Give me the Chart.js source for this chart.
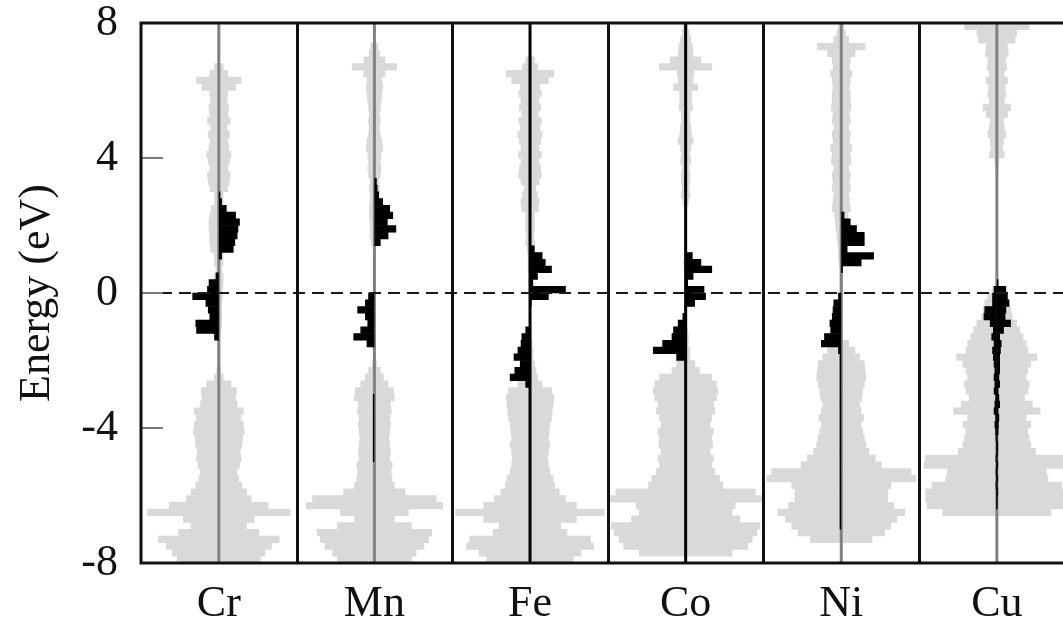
<!DOCTYPE html>
<html>
<head>
<meta charset="utf-8">
<script src="https://cdn.jsdelivr.net/npm/chart.js@4.4.1/dist/chart.umd.min.js"></script>
<style>
  html, body { margin: 0; background: #fff; }
  #wrap { width: 1063px; height: 623px; }
</style>
</head>
<body>
<div id="wrap"><canvas id="dosChart"></canvas></div>
<script>
// impurities, one panel each
const elements = ['Cr', 'Mn', 'Fe', 'Co', 'Ni', 'Cu'];
const energyTicks = [-8, -4, 0, 4, 8];

// energy bins (eV), centres from -7.9 to 7.9
const binWidth = 0.2;
const energies = [];
for (let i = 0; i < 80; i++) energies.push(+(-7.9 + binWidth * i).toFixed(1));

// host DOS (drawn symmetric, grey), rows of 2 eV from the bottom up
const crTotal = [
  2.7, 3.0, 3.4, 3.9, 2.6, 1.8, 2.3, 4.6, 3.2, 2.1,
  1.8, 1.5, 1.3, 1.2, 1.35, 1.45, 1.4, 1.5, 1.55, 1.65,
  1.6, 1.45, 1.6, 1.2, 1.1, 1.15, 0.8, 0.3, 0.15, 0.1,
  0.1, 0.1, 0.1, 0.1, 0.15, 0.2, 0.2, 0.2, 0.2, 0.25,
  0.25, 0.3, 0.3, 0.2, 0.3, 0.3, 0.55, 0.6, 0.6, 0.65,
  0.65, 0.6, 0.5, 0.3, 0.3, 0.6, 0.7, 0.75, 0.6, 0.7,
  0.8, 0.65, 0.6, 0.7, 0.55, 0.75, 0.6, 0.65, 0.55, 0.6,
  1.1, 1.45, 0.6, 0.3, 0, 0, 0, 0, 0, 0
];
const mnTotal = [
  2.4, 2.7, 3.2, 3.5, 3.7, 2.4, 1.3, 2.2, 4.4, 4.0,
  2.0, 1.3, 1.15, 1.1, 1.15, 1.0, 1.05, 1.0, 0.95, 1.0,
  1.05, 1.0, 1.1, 1.05, 1.3, 1.25, 0.9, 0.6, 0.4, 0.15,
  0.05, 0.05, 0.05, 0.05, 0.05, 0.05, 0.05, 0.05, 0.05, 0.05,
  0.05, 0.05, 0.05, 0.05, 0.05, 0.05, 0.1, 0.2, 0.3, 0.3,
  0.3, 0.35, 0.35, 0.3, 0.3, 0.35, 0.3, 0.4, 0.45, 0.4,
  0.45, 0.55, 0.5, 0.4, 0.35, 0.4, 0.35, 0.4, 0.45, 0.5,
  0.55, 0.5, 0.7, 1.45, 0.7, 0.35, 0.25, 0, 0, 0
];
const feTotal = [
  2.8, 3.3, 4.1, 3.9, 2.4, 2.0, 3.0, 4.8, 3.0, 2.3,
  1.9, 1.6, 1.5, 1.3, 1.2, 1.15, 1.2, 1.3, 1.2, 1.25,
  1.3, 1.4, 1.45, 1.5, 1.55, 1.4, 0.8, 0.5, 0.4, 0.3,
  0.2, 0.2, 0.15, 0.1, 0.1, 0.05, 0.05, 0.05, 0.05, 0.05,
  0.1, 0.1, 0.1, 0.15, 0.15, 0.15, 0.2, 0.3, 0.25, 0.3,
  0.3, 0.3, 0.55, 0.6, 0.5, 0.4, 0.6, 0.75, 0.7, 0.6,
  0.75, 0.6, 0.7, 0.8, 0.65, 0.75, 0.55, 0.7, 0.6, 0.75,
  0.65, 1.2, 1.55, 0.5, 0.3, 0, 0, 0, 0, 0
];
const coTotal = [
  0, 3.0, 4.0, 4.3, 4.6, 4.8, 3.5, 3.0, 3.2, 4.9,
  4.5, 2.4, 2.2, 1.9, 1.7, 1.8, 1.6, 1.75, 1.7, 1.8,
  1.6, 1.7, 1.9, 1.8, 2.0, 2.1, 2.0, 1.7, 0.9, 0.6,
  0.3, 0.3, 0.2, 0.2, 0.15, 0.1, 0.1, 0.1, 0.1, 0.1,
  0.1, 0.1, 0.1, 0.1, 0.15, 0.1, 0.1, 0.1, 0.05, 0.05,
  0.05, 0.05, 0.1, 0.2, 0.3, 0.25, 0.3, 0.3, 0.25, 0.35,
  0.3, 0.35, 0.5, 0.4, 0.35, 0.3, 0.3, 0.45, 0.4, 0.4,
  0.8, 0.5, 0.55, 1.7, 1.0, 0.5, 0.45, 0.35, 0.25, 0.15
];
const niTotal = [
  0, 0, 0, 2.0, 2.8, 3.2, 3.6, 4.1, 3.4, 3.0,
  3.0, 3.2, 4.8, 4.5, 2.6, 2.2, 1.8, 1.6, 1.5, 1.4,
  1.3, 1.45, 1.3, 1.2, 1.35, 1.4, 1.5, 1.6, 1.55, 1.5,
  1.2, 0.9, 0.5, 0.1, 0.1, 0.1, 0.1, 0.1, 0.1, 0.1,
  0.1, 0.1, 0.1, 0.1, 0.15, 0.2, 0.2, 0.25, 0.3, 0.35,
  0.4, 0.45, 0.6, 0.55, 0.5, 0.6, 0.55, 0.6, 0.5, 0.65,
  0.6, 0.7, 0.55, 0.6, 0.5, 0.6, 0.55, 0.65, 0.6, 0.6,
  0.55, 0.6, 0.7, 0.55, 0.6, 0.9, 1.55, 0.5, 0.3, 0.2
];
const cuTotal = [
  0, 0, 0, 0, 0, 0, 0, 3.5, 4.5, 4.6,
  4.6, 4.2, 3.3, 3.2, 4.7, 4.6, 2.5, 2.2, 2.1, 2.0,
  2.2, 1.9, 2.8, 2.3, 1.8, 2.0, 2.1, 1.9, 2.0, 2.2,
  2.6, 2.0, 1.9, 1.7, 1.5, 1.3, 1.0, 0.9, 0.8, 0.6,
  0.3, 0.05, 0.05, 0.05, 0.05, 0.05, 0.05, 0.05, 0.05, 0.05,
  0.05, 0.05, 0.05, 0.05, 0.05, 0.05, 0.05, 0.05, 0.1, 0.15,
  0.5, 0.4, 0.45, 0.6, 0.5, 0.45, 0.7, 0.9, 0.5, 0.6,
  0.55, 0.7, 0.5, 0.65, 0.6, 0.75, 0.7, 1.2, 1.3, 2.1
];

// impurity DOS, spin up (right of the axis) and spin down (left)
const crUp = [
  0, 0, 0, 0, 0, 0, 0, 0, 0, 0,
  0, 0, 0, 0, 0, 0, 0, 0, 0, 0,
  0, 0, 0, 0, 0, 0, 0, 0, 0, 0,
  0, 0, 0, 0, 0, 0, 0, 0, 0, 0,
  0, 0, 0, 0, 0, 0.2, 0.95, 1.05, 1.2, 1.25,
  1.35, 1.1, 0.5, 0.2, 0.1, 0, 0, 0, 0, 0,
  0, 0, 0, 0, 0, 0, 0, 0, 0, 0,
  0, 0, 0, 0, 0, 0, 0, 0, 0, 0
];
const crDown = [
  0, 0, 0, 0, 0, 0, 0, 0, 0, 0,
  0, 0, 0, 0, 0, 0, 0, 0, 0, 0,
  0, 0, 0, 0, 0, 0, 0, 0, 0, 0,
  0, 0, 0, 0.3, 1.45, 1.5, 0.6, 0.7, 0.85, 1.7,
  0.75, 0.65, 0.2, 0, 0, 0, 0, 0, 0, 0,
  0, 0, 0, 0, 0, 0, 0, 0, 0, 0,
  0, 0, 0, 0, 0, 0, 0, 0, 0, 0,
  0, 0, 0, 0, 0, 0, 0, 0, 0, 0
];
const mnUp = [
  0, 0, 0, 0, 0, 0, 0, 0, 0, 0,
  0, 0, 0, 0, 0, 0, 0, 0, 0, 0,
  0, 0, 0, 0, 0, 0, 0, 0, 0, 0,
  0, 0, 0, 0, 0, 0, 0, 0, 0, 0,
  0, 0, 0, 0, 0, 0, 0, 0.4, 0.9, 1.4,
  0.85, 1.2, 1.0, 0.55, 0.3, 0.2, 0.15, 0, 0, 0,
  0, 0, 0, 0, 0, 0, 0, 0, 0, 0,
  0, 0, 0, 0, 0, 0, 0, 0, 0, 0
];
const mnDown = [
  0, 0, 0, 0, 0, 0, 0, 0, 0, 0,
  0, 0, 0, 0, 0, 0.1, 0.1, 0.1, 0.1, 0.1,
  0.1, 0.1, 0.1, 0.1, 0.1, 0, 0, 0, 0, 0,
  0, 0, 0.5, 1.35, 0.9, 0.45, 0.6, 1.1, 0.6, 0.4,
  0, 0, 0, 0, 0, 0, 0, 0, 0, 0,
  0, 0, 0, 0, 0, 0, 0, 0, 0, 0,
  0, 0, 0, 0, 0, 0, 0, 0, 0, 0,
  0, 0, 0, 0, 0, 0, 0, 0, 0, 0
];
const feUp = [
  0, 0, 0, 0, 0, 0, 0, 0, 0, 0,
  0, 0, 0, 0, 0, 0, 0, 0, 0, 0,
  0, 0, 0, 0, 0, 0, 0, 0, 0, 0,
  0, 0, 0, 0, 0, 0, 0, 0, 0.1, 1.2,
  2.3, 0.2, 0.5, 1.4, 1.0, 0.8, 0.3, 0, 0, 0,
  0, 0, 0, 0, 0, 0, 0, 0, 0, 0,
  0, 0, 0, 0, 0, 0, 0, 0, 0, 0,
  0, 0, 0, 0, 0, 0, 0, 0, 0, 0
];
const feDown = [
  0, 0, 0, 0, 0, 0, 0, 0, 0, 0,
  0, 0, 0, 0, 0, 0, 0, 0, 0, 0,
  0, 0, 0, 0, 0, 0, 0.3, 1.3, 1.0, 0.65,
  1.05, 0.8, 0.6, 0.55, 0.3, 0, 0, 0, 0, 0,
  0, 0, 0, 0, 0, 0, 0, 0, 0, 0,
  0, 0, 0, 0, 0, 0, 0, 0, 0, 0,
  0, 0, 0, 0, 0, 0, 0, 0, 0, 0,
  0, 0, 0, 0, 0, 0, 0, 0, 0, 0
];
const coUp = [
  0, 0, 0, 0, 0, 0, 0, 0, 0, 0,
  0, 0, 0, 0, 0, 0, 0, 0, 0, 0,
  0, 0, 0, 0, 0, 0, 0, 0, 0, 0,
  0, 0, 0, 0, 0, 0, 0, 0, 0.6, 1.3,
  1.2, 0.15, 0.5, 1.7, 1.0, 0.45, 0, 0, 0, 0,
  0, 0, 0, 0, 0, 0, 0, 0, 0, 0,
  0, 0, 0, 0, 0, 0, 0, 0, 0, 0,
  0, 0, 0, 0, 0, 0, 0, 0, 0, 0
];
const coDown = [
  0, 0, 0, 0, 0, 0, 0, 0, 0, 0,
  0, 0, 0, 0, 0, 0, 0, 0, 0, 0,
  0, 0, 0, 0, 0, 0, 0, 0, 0, 0,
  0.6, 2.1, 1.5, 0.9, 0.8, 0.5, 0.2, 0, 0, 0,
  0, 0, 0, 0, 0, 0, 0, 0, 0, 0,
  0, 0, 0, 0, 0, 0, 0, 0, 0, 0,
  0, 0, 0, 0, 0, 0, 0, 0, 0, 0,
  0, 0, 0, 0, 0, 0, 0, 0, 0, 0
];
const niUp = [
  0, 0, 0, 0, 0, 0, 0, 0, 0, 0,
  0, 0, 0, 0, 0, 0, 0, 0, 0, 0,
  0, 0, 0, 0, 0, 0, 0, 0, 0, 0,
  0, 0, 0, 0, 0, 0, 0, 0, 0, 0,
  0, 0, 0, 0.1, 1.3, 2.1, 0.4, 1.5, 1.5, 1.0,
  0.6, 0.2, 0, 0, 0, 0, 0, 0, 0, 0,
  0, 0, 0, 0, 0, 0, 0, 0, 0, 0,
  0, 0, 0, 0, 0, 0, 0, 0, 0, 0
];
const niDown = [
  0, 0, 0, 0, 0, 0.1, 0.1, 0.1, 0.1, 0.1,
  0.1, 0.1, 0.1, 0.1, 0.1, 0.1, 0.1, 0.1, 0.1, 0.1,
  0.1, 0.1, 0.1, 0.1, 0.1, 0.1, 0.1, 0.1, 0.1, 0.1,
  0.1, 0.2, 1.3, 1.1, 0.7, 0.75, 0.6, 0.55, 0.5, 0.2,
  0, 0, 0, 0, 0, 0, 0, 0, 0, 0,
  0, 0, 0, 0, 0, 0, 0, 0, 0, 0,
  0, 0, 0, 0, 0, 0, 0, 0, 0, 0,
  0, 0, 0, 0, 0, 0, 0, 0, 0, 0
];
const cuUp = [
  0, 0, 0, 0, 0, 0, 0, 0, 0.05, 0.05,
  0.08, 0.05, 0.08, 0.05, 0.08, 0.05, 0.08, 0.08, 0.05, 0.1,
  0.12, 0.15, 0.1, 0.2, 0.15, 0.1, 0.2, 0.15, 0.2, 0.2,
  0.2, 0.25, 0.3, 0.2, 0.45, 0.9, 0.55, 0.6, 0.8, 0.7,
  0.6, 0.1, 0, 0, 0, 0, 0, 0, 0, 0,
  0, 0, 0, 0, 0, 0, 0, 0, 0, 0,
  0, 0, 0, 0, 0, 0, 0, 0, 0, 0,
  0, 0, 0, 0, 0, 0, 0, 0, 0, 0
];
const cuDown = [
  0, 0, 0, 0, 0, 0, 0, 0, 0.05, 0.05,
  0.05, 0.08, 0.05, 0.08, 0.05, 0.08, 0.05, 0.05, 0.08, 0.1,
  0.15, 0.1, 0.2, 0.15, 0.1, 0.2, 0.15, 0.2, 0.15, 0.2,
  0.25, 0.3, 0.2, 0.35, 0.25, 0.45, 0.85, 0.8, 0.3, 0.3,
  0.2, 0, 0, 0, 0, 0, 0, 0, 0, 0,
  0, 0, 0, 0, 0, 0, 0, 0, 0, 0,
  0, 0, 0, 0, 0, 0, 0, 0, 0, 0,
  0, 0, 0, 0, 0, 0, 0, 0, 0, 0
];

const totals = [crTotal, mnTotal, feTotal, coTotal, niTotal, cuTotal];
const spinUp = [crUp, mnUp, feUp, coUp, niUp, cuUp];
const spinDown = [crDown, mnDown, feDown, coDown, niDown, cuDown];
const axisColors = ['#808080', '#808080', '#000000', '#000000', '#808080', '#808080'];

const PANEL = 10;      // x units per panel
const X_MAX = 59.25;   // last panel runs off the right edge
const serif = 'Liberation Serif';

// floating horizontal bars for one DOS curve
function dosBars(values, centre, side) {
  const out = [];
  values.forEach((v, i) => {
    if (!v) return;
    const lo = side === 'right' ? centre : centre - v;
    const hi = side === 'left' ? centre : centre + v;
    out.push({ y: energies[i], x: [lo, hi] });
  });
  return out;
}

const barStyle = { type: 'bar', grouped: false, barPercentage: 1.08, categoryPercentage: 1, borderWidth: 0 };
const datasets = [];
elements.forEach((el, i) => {
  const c = PANEL * i + PANEL / 2;
  datasets.push(Object.assign({ label: el + ' host', data: dosBars(totals[i], c, 'both'),
    backgroundColor: '#d9d9d9', order: 3 }, barStyle));
  datasets.push({ type: 'line', label: el + ' axis', data: [{ x: c, y: -8 }, { x: c, y: 8 }],
    borderColor: axisColors[i], borderWidth: 3, pointRadius: 0, order: 2 });
  datasets.push(Object.assign({ label: el + ' up', data: dosBars(spinUp[i], c, 'right'),
    backgroundColor: '#000', order: 1 }, barStyle));
  datasets.push(Object.assign({ label: el + ' down', data: dosBars(spinDown[i], c, 'left'),
    backgroundColor: '#000', order: 1 }, barStyle));
});

// frame, panel dividers, inner ticks and the Fermi level
const framePlugin = {
  id: 'frame',
  afterDatasetsDraw(chart) {
    const { ctx, chartArea: a, scales: { x, y } } = chart;
    ctx.save();
    const y0 = y.getPixelForValue(0);
    ctx.strokeStyle = '#1a1a1a';
    ctx.lineWidth = 2;
    ctx.setLineDash([12, 7]);
    ctx.beginPath(); ctx.moveTo(a.left, y0); ctx.lineTo(a.right, y0); ctx.stroke();
    ctx.setLineDash([]);

    ctx.strokeStyle = '#7a7a7a';
    energyTicks.forEach(v => {
      const py = y.getPixelForValue(v);
      ctx.beginPath(); ctx.moveTo(a.left, py); ctx.lineTo(a.left + 22, py); ctx.stroke();
    });

    ctx.strokeStyle = '#111';
    ctx.lineWidth = 3;
    for (let i = 1; i < elements.length; i++) {
      const px = Math.round(x.getPixelForValue(PANEL * i)) + 0.5;
      ctx.beginPath(); ctx.moveTo(px, a.top); ctx.lineTo(px, a.bottom); ctx.stroke();
    }
    ctx.beginPath();
    ctx.moveTo(a.right, a.top);
    ctx.lineTo(a.left, a.top);
    ctx.lineTo(a.left, a.bottom);
    ctx.lineTo(a.right, a.bottom);
    ctx.stroke();
    ctx.restore();
  }
};

new Chart(document.getElementById('dosChart'), {
  type: 'bar',
  data: { datasets },
  plugins: [framePlugin],
  options: {
    indexAxis: 'y',
    responsive: true,
    maintainAspectRatio: false,
    animation: false,
    events: [],
    layout: { padding: { top: 23, left: 0, right: 0, bottom: 0 } },
    plugins: { legend: { display: false }, tooltip: { enabled: false } },
    scales: {
      x: {
        type: 'linear',
        position: 'bottom',
        min: 0,
        max: X_MAX,
        afterFit: s => { s.height = 60; },
        afterBuildTicks: s => { s.ticks = elements.map((_, i) => ({ value: PANEL * i + PANEL / 2 })); },
        ticks: {
          autoSkip: false,
          maxRotation: 0,
          padding: 19,
          color: '#111',
          font: { family: serif, size: 44, lineHeight: 1 },
          callback: (v, i) => elements[i]
        },
        grid: { display: false, drawTicks: false },
        border: { display: false }
      },
      y: {
        type: 'linear',
        min: -8,
        max: 8,
        offset: false,
        // fixed axis width; the end labels may overhang the frame
        afterFit: s => { s.width = 141; s.paddingTop = 0; s.paddingBottom = 0; },
        afterBuildTicks: s => { s.ticks = energyTicks.map(v => ({ value: v })); },
        ticks: {
          padding: 23,
          color: '#111',
          font: { family: serif, size: 44, lineHeight: 1 },
          callback: v => String(v)
        },
        title: {
          display: true,
          text: 'Energy (eV)',
          color: '#111',
          font: { family: serif, size: 44 },
          padding: { top: 11, bottom: 0 }
        },
        grid: { display: false, drawTicks: false, offset: false },
        border: { display: false }
      }
    }
  }
});
</script>
</body>
</html>
